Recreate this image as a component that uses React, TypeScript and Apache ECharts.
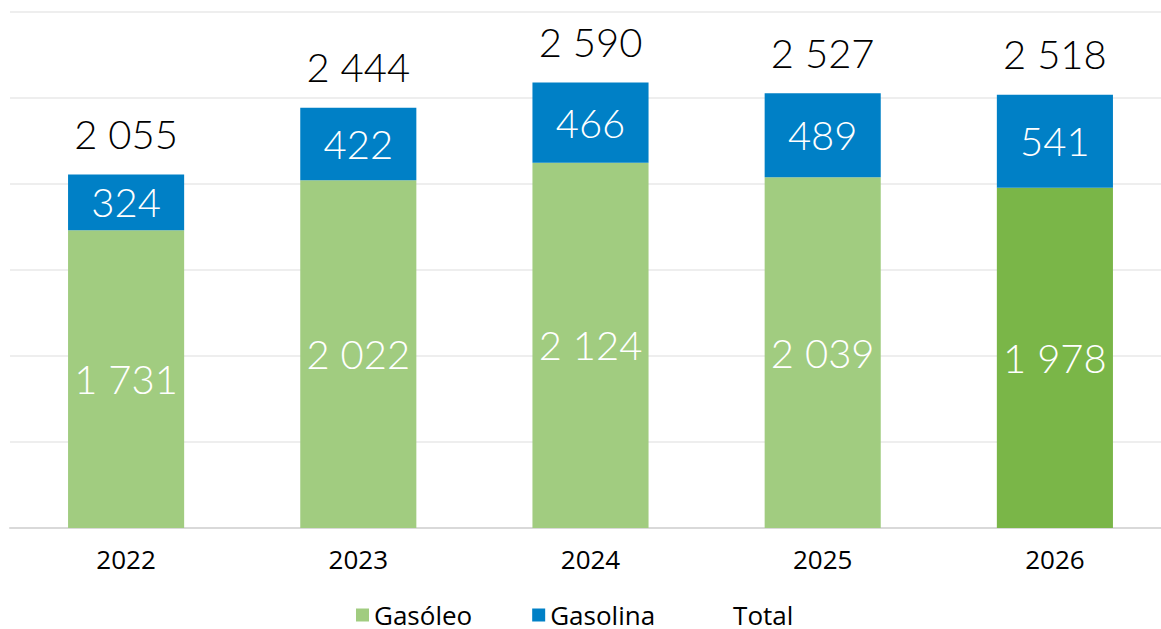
import React, { useEffect, useRef } from "react";
import * as echarts from "echarts";

const years = ["2022", "2023", "2024", "2025", "2026"];
const gasoleo = [1731, 2022, 2124, 2039, 1978];
const gasolina = [324, 422, 466, 489, 541];
const total = [2055, 2444, 2590, 2527, 2518];
const highlightIndex = 4;

const fmt = (v: number) => {
  const s = String(Math.round(v));
  return s.length > 3 ? s.slice(0, s.length - 3) + " " + s.slice(s.length - 3) : s;
};

const FONT = "Lato";
const SMALL_FONT = "Open Sans";

export default function App() {
  const ref = useRef<HTMLDivElement>(null);
  useEffect(() => {
    const chart = echarts.init(ref.current!, null, { renderer: "svg" });
    chart.setOption({
      animation: false,
      textStyle: { fontFamily: FONT },
      grid: {
        left: 10,
        right: -10,
        top: 12,
        bottom: 101,
        containLabel: false,
        outerBoundsMode: "none",
      },
      legend: {
        top: 597,
        left: 351,
        padding: 5,
        itemWidth: 13,
        itemHeight: 13,
        itemGap: 60,
        textStyle: { fontSize: 26, lineHeight: 22, color: "#000", fontFamily: SMALL_FONT },
        data: [
          { name: "Gasóleo", icon: "rect" },
          { name: "Gasolina", icon: "rect" },
          { name: "Total", icon: "rect", itemStyle: { color: "rgba(0,0,0,0)" } },
        ],
      },
      xAxis: {
        type: "category",
        data: years,
        axisLine: { lineStyle: { color: "#d9d9d9", width: 2 } },
        axisTick: { show: false },
        axisLabel: { color: "#000", fontSize: 26, margin: 18, fontFamily: SMALL_FONT },
      },
      yAxis: {
        type: "value",
        min: 0,
        max: 3000,
        interval: 500,
        axisLabel: { show: false },
        axisLine: { show: false },
        axisTick: { show: false },
        splitLine: { lineStyle: { color: "#eeeeee", width: 2 } },
      },
      series: [
        {
          name: "Gasóleo",
          type: "bar",
          stack: "a",
          barWidth: "50%",
          itemStyle: { color: "#a1cc80" },
          data: gasoleo.map((v, i) =>
            i === highlightIndex ? { value: v, itemStyle: { color: "#7ab648" } } : v
          ),
          label: {
            show: true,
            position: "inside",
            color: "#fff",
            fontSize: 40,
            fontWeight: 300,
            fontFamily: FONT,
            formatter: (p: any) => fmt(p.value),
          },
        },
        {
          name: "Gasolina",
          type: "bar",
          stack: "a",
          barWidth: "50%",
          itemStyle: { color: "#0080c6" },
          data: gasolina,
          label: {
            show: true,
            position: "inside",
            color: "#fff",
            fontSize: 40,
            fontWeight: 300,
            fontFamily: FONT,
            formatter: (p: any) => fmt(p.value),
          },
        },
        {
          name: "Total",
          type: "line",
          data: total,
          symbol: "circle",
          symbolSize: 1,
          showSymbol: true,
          lineStyle: { opacity: 0 },
          itemStyle: { color: "rgba(0,0,0,0)" },
          label: {
            show: true,
            position: "top",
            distance: 20,
            color: "#000",
            fontSize: 40,
            fontWeight: 300,
            fontFamily: FONT,
            formatter: (p: any) => fmt(p.value),
          },
          z: 5,
        },
      ],
    });
    return () => chart.dispose();
  }, []);
  return (
    <div
      ref={ref}
      style={{ position: "absolute", left: 0, top: 0, width: 1161, height: 629 }}
    />
  );
}
